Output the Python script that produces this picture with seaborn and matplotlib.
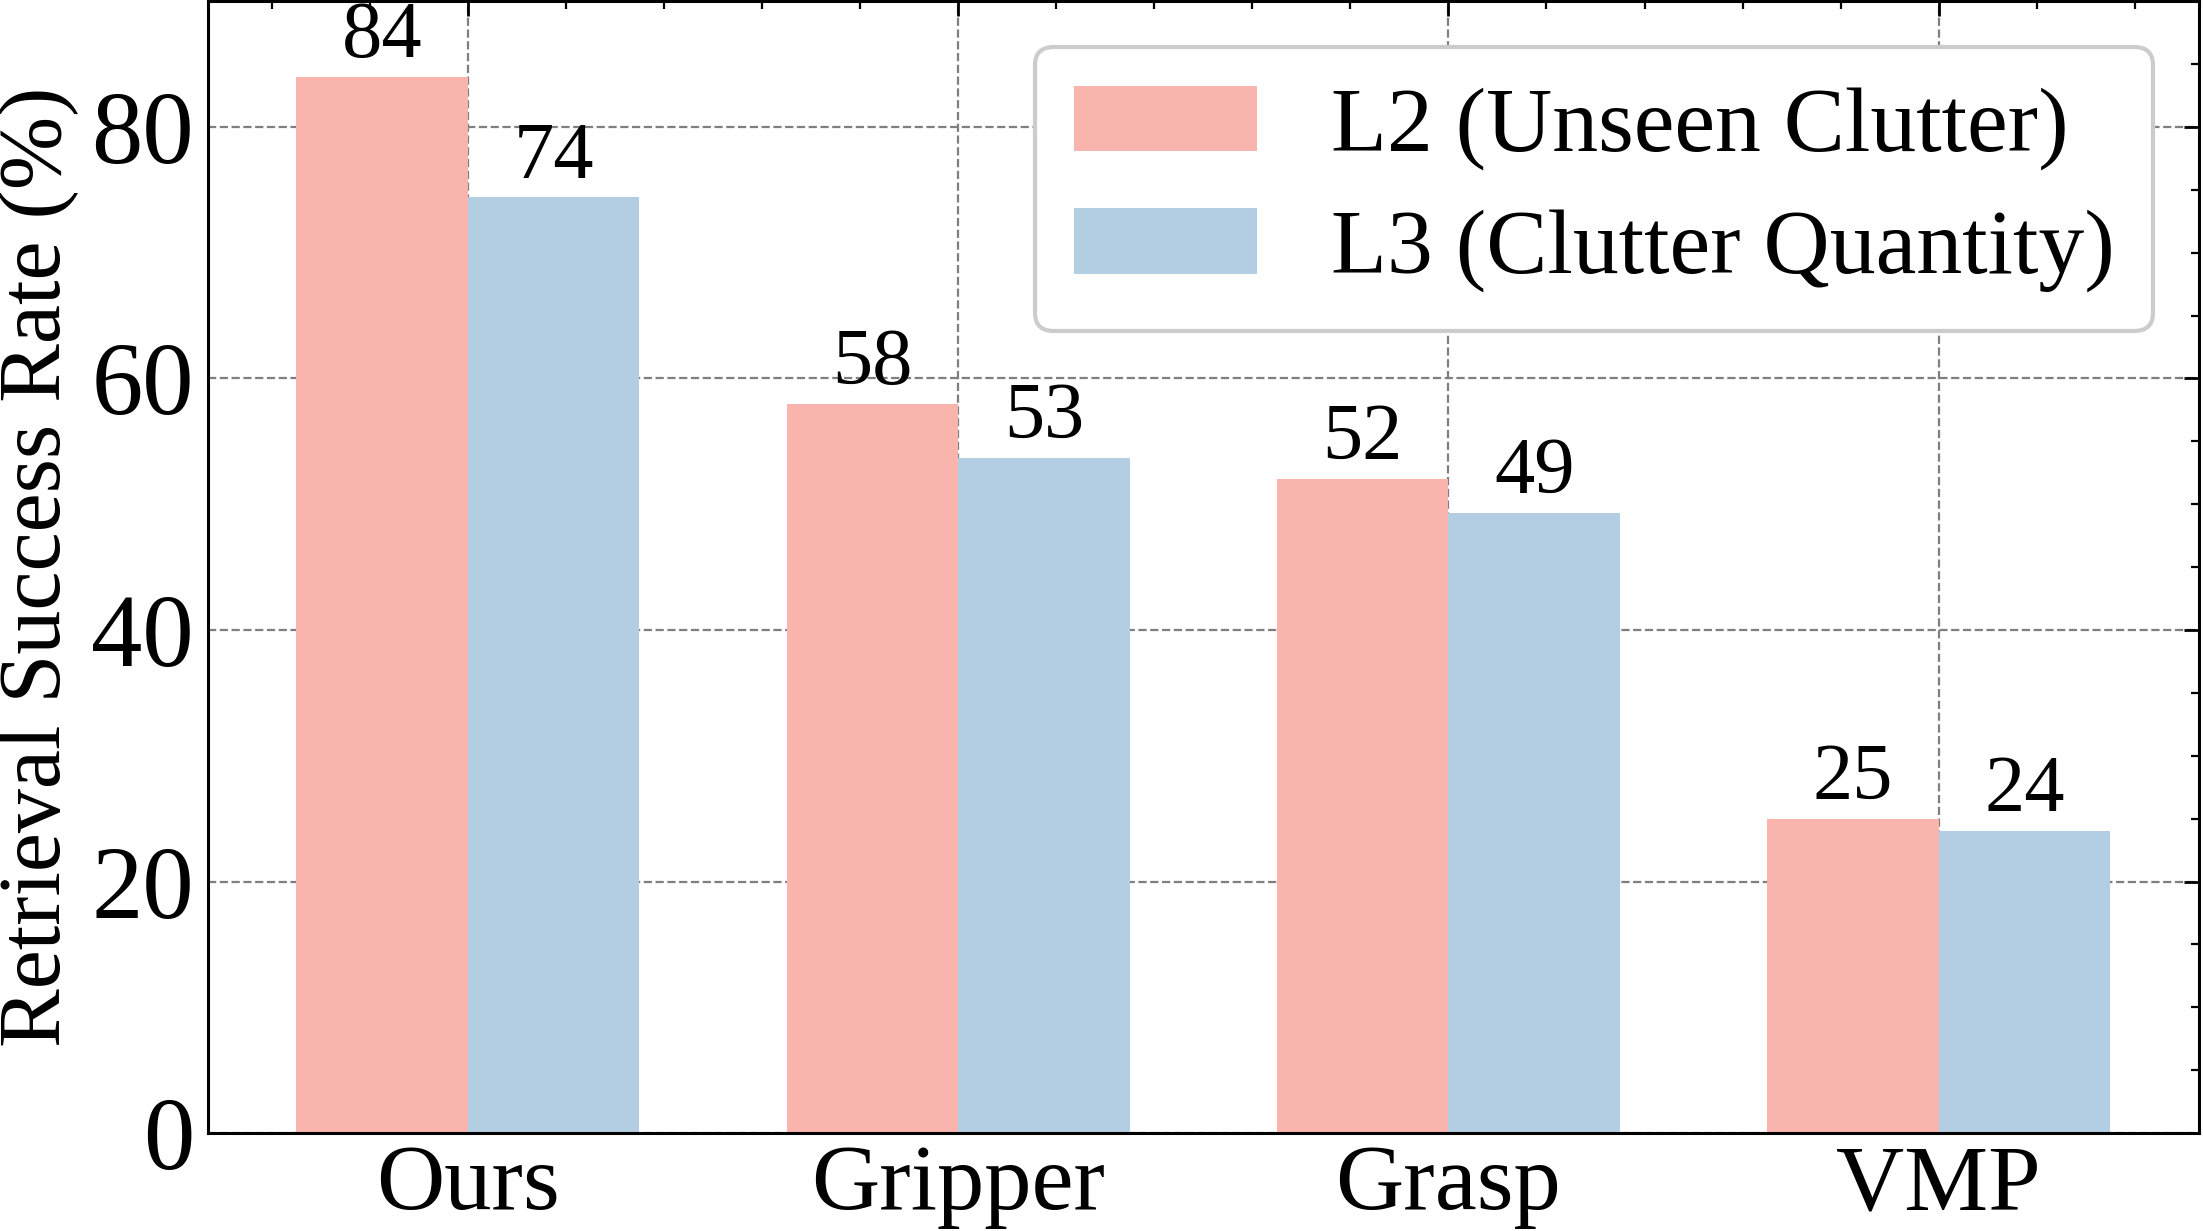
import pandas as pd
import seaborn as sns
import matplotlib.pyplot as plt
from matplotlib.ticker import MultipleLocator

# Data
methods = ['Ours', 'Gripper', 'Grasp', 'VMP']
l2_unseen = [84.0, 58.0, 52.0, 25.0]
l3_quantity = [74.4, 53.7, 49.3, 24.0]
series_names = ['L2 (Unseen Clutter)', 'L3 (Clutter Quantity)']
colors = ['#FAB4AE', '#B3CDE3']

df = pd.DataFrame({
    'method': methods * 2,
    'rate': l2_unseen + l3_quantity,
    'level': [series_names[0]] * 4 + [series_names[1]] * 4,
})

sns.set_style('white')
plt.rcParams['font.family'] = ['Liberation Serif', 'DejaVu Serif']
plt.rcParams['mathtext.fontset'] = 'stix'
for key in ['text.color', 'axes.labelcolor', 'xtick.color', 'ytick.color']:
    plt.rcParams[key] = 'black'

fig, ax = plt.subplots(figsize=(11.015, 6.155), dpi=200)
fig.subplots_adjust(left=0.0944, right=0.998, top=0.999, bottom=0.0796)

sns.barplot(data=df, x='method', y='rate', hue='level', palette=colors,
            width=0.7, saturation=1, linewidth=0, ax=ax)

# value labels on top of bars (integer part, as in the original)
for cont in ax.containers:
    ax.bar_label(cont, labels=[f'{int(b.get_height())}' for b in cont],
                 padding=1, fontsize=29)

ax.set_xlim(-0.53, 3.53)
ax.set_ylim(0, 90)
ax.yaxis.set_major_locator(MultipleLocator(20))
ax.yaxis.set_minor_locator(MultipleLocator(5))
ax.xaxis.set_minor_locator(MultipleLocator(0.2))

ax.set_xlabel('')
ax.set_ylabel('Retrieval Success Rate (%)', fontsize=31.7, labelpad=5)
ax.tick_params(axis='both', which='major', direction='in', length=5.5, width=1,
               top=True, right=True, pad=5)
ax.tick_params(axis='y', which='major', labelsize=37)
ax.tick_params(axis='x', which='major', labelsize=34, pad=4)
ax.tick_params(axis='both', which='minor', direction='in', length=3, width=0.8,
               top=True, right=True)

ax.grid(True, which='major', linestyle='--', color='#7f7f7f', linewidth=0.8)
ax.set_axisbelow(True)
for sp in ax.spines.values():
    sp.set_color('black')
    sp.set_linewidth(1.1)

handles, labels = ax.get_legend_handles_labels()
leg = ax.legend(handles, labels, loc='upper right', fontsize=33, frameon=True,
                fancybox=True, framealpha=1, edgecolor='#cccccc',
                handlelength=2.0, handleheight=0.72, handletextpad=0.8,
                labelspacing=0.42, borderpad=0.42)
leg.get_frame().set_linewidth(1.5)

plt.savefig('out.png', dpi=200)
